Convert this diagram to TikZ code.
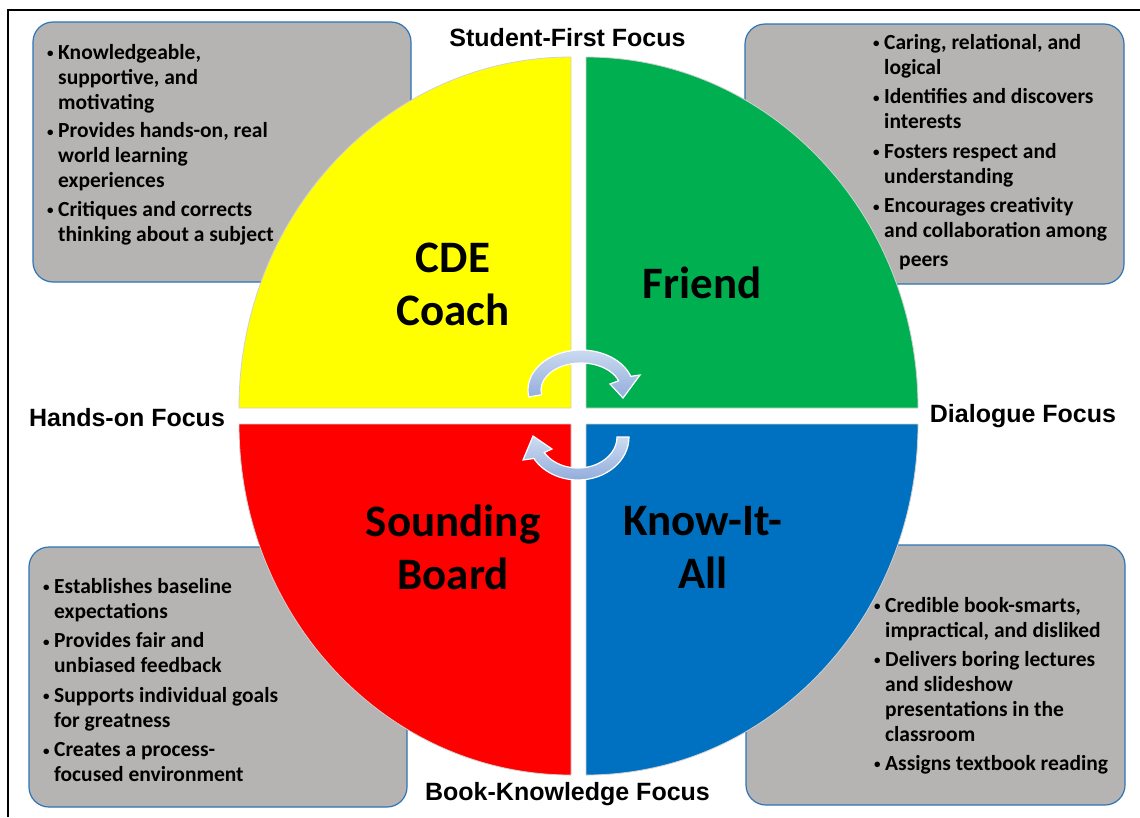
\documentclass[tikz,border=0pt]{standalone}
\usepackage{fontspec}
\setmainfont{Carlito}
\newfontfamily\labfont{Liberation Sans}
\usetikzlibrary{calc}
\definecolor{qyellow}{HTML}{FFFF00}
\definecolor{qgreen}{HTML}{00B050}
\definecolor{qred}{HTML}{FF0000}
\definecolor{qblue}{HTML}{0070C0}
\definecolor{boxgray}{RGB}{181,180,178}
\definecolor{boxline}{RGB}{46,117,182}
\definecolor{arrtop}{RGB}{206,220,241}
\definecolor{arrbot}{RGB}{146,173,220}
\newcommand{\bu}[1]{\makebox[11pt][l]{\raisebox{1.6pt}{\fontsize{13}{13}\selectfont•}}#1}
\newcommand{\ct}[1]{\hspace*{11pt}#1}
\tikzset{
  infobox/.style={fill=boxgray, draw=boxline, line width=1.2pt, rounded corners=20pt},
  quad/.style={draw=black!18, line width=0.8pt},
  listtext/.style={anchor=north west, inner sep=0pt, align=left,
    font=\bfseries\fontsize{21.5}{25}\selectfont},
  qtitle/.style={align=center, inner sep=0pt,
    font=\bfseries\fontsize{45}{53}\selectfont},
  focuslab/.style={anchor=base, inner sep=0pt,
    font=\labfont\bfseries\fontsize{25}{30}\selectfont},
  cyclearrow/.style={top color=arrtop, bottom color=arrbot, draw=white, line width=1.2pt}
}
\begin{document}
\begin{tikzpicture}[x=1pt,y=-1pt]
\useasboundingbox (0,0) rectangle (1140,817);
\fill[white] (0,0) rectangle (1140,817);
% frame
\draw[line width=1.5pt] (8,817) -- (8,10) -- (1140,10);
% boxes
\draw[infobox] (33,22) rectangle (411,282);
\draw[infobox] (745,24) rectangle (1124,284);
\draw[infobox] (29,547) rectangle (407,807);
\draw[infobox] (746,545) rectangle (1125,805);
% quadrants
\filldraw[quad, fill=qyellow] (571,408) -- (239,408) arc[start angle=180, end angle=270, x radius=332, y radius=351] -- cycle;
\filldraw[quad, fill=qgreen] (586,408) -- (586,57) arc[start angle=270, end angle=360, x radius=332, y radius=351] -- cycle;
\filldraw[quad, fill=qred] (571,424) -- (571,775) arc[start angle=90, end angle=180, x radius=332, y radius=351] -- cycle;
\filldraw[quad, fill=qblue] (586,424) -- (918,424) arc[start angle=0, end angle=90, x radius=332, y radius=351] -- cycle;
% cycle arrows
\coordinate (c1) at (581,390);
\coordinate (c2) at (578,437);
\shadedraw[cyclearrow] ($(c1)+(170:53 and 40)$) arc[start angle=170, end angle=340, x radius=53, y radius=40]
  -- (640,375) -- (623,398) -- (610,384) -- ($(c1)+(340:40 and 27)$)
  arc[start angle=340, end angle=170, x radius=40, y radius=27] -- cycle;
\shadedraw[cyclearrow] ($(c2)+(0:51 and 43)$) arc[start angle=0, end angle=150, x radius=51, y radius=43]
  -- (523,460) -- (533,436) -- (552,449) -- ($(c2)+(150:39 and 31)$)
  arc[start angle=150, end angle=0, x radius=39, y radius=31] -- cycle;
% titles
\node[qtitle] (coach) at (453,284) {CDE\\Coach};
\node[qtitle] (friend) at (702,283) {Friend};
\node[qtitle] (sound) at (453,547) {Sounding\\Board};
\node[qtitle] (know) at (703,547) {Know-It-\\All};
% focus labels
\node[focuslab] (top) at (567.5,46) {Student-First Focus};
\node[focuslab] (left) at (127,426) {Hands-on Focus};
\node[focuslab] (right) at (1023,422) {Dialogue Focus};
\node[focuslab] (bottom) at (567.5,800) {Book-Knowledge Focus};
% lists
\node[listtext] (tl) at (47,44) {\bu{Knowledgeable,}\\ \ct{supportive, and}\\ \ct{motivating}\\[3.5pt]
  \bu{Provides hands-on, real}\\ \ct{world learning}\\ \ct{experiences}\\[3.5pt]
  \bu{Critiques and corrects}\\ \ct{thinking about a subject}};
\node[listtext] (tr) at (873,34) {\bu{Caring, relational, and}\\ \ct{logical}\\[4.5pt]
  \bu{Identifies and discovers}\\ \ct{interests}\\[4.5pt]
  \bu{Fosters respect and}\\ \ct{understanding}\\[4.5pt]
  \bu{Encourages creativity}\\ \ct{and collaboration among}\\[4pt] \hspace*{26pt}peers};
\node[listtext] (bl) at (43,578) {\bu{Establishes baseline}\\ \ct{expectations}\\[4.5pt]
  \bu{Provides fair and}\\ \ct{unbiased feedback}\\[4.5pt]
  \bu{Supports individual goals}\\ \ct{for greatness}\\[4.5pt]
  \bu{Creates a process-}\\ \ct{focused environment}};
\node[listtext] (br) at (874,597) {\bu{Credible book-smarts,}\\ \ct{impractical, and disliked}\\[4pt]
  \bu{Delivers boring lectures}\\ \ct{and slideshow}\\ \ct{presentations in the}\\ \ct{classroom}\\[4pt]
  \bu{Assigns textbook reading}};
\end{tikzpicture}
\end{document}
